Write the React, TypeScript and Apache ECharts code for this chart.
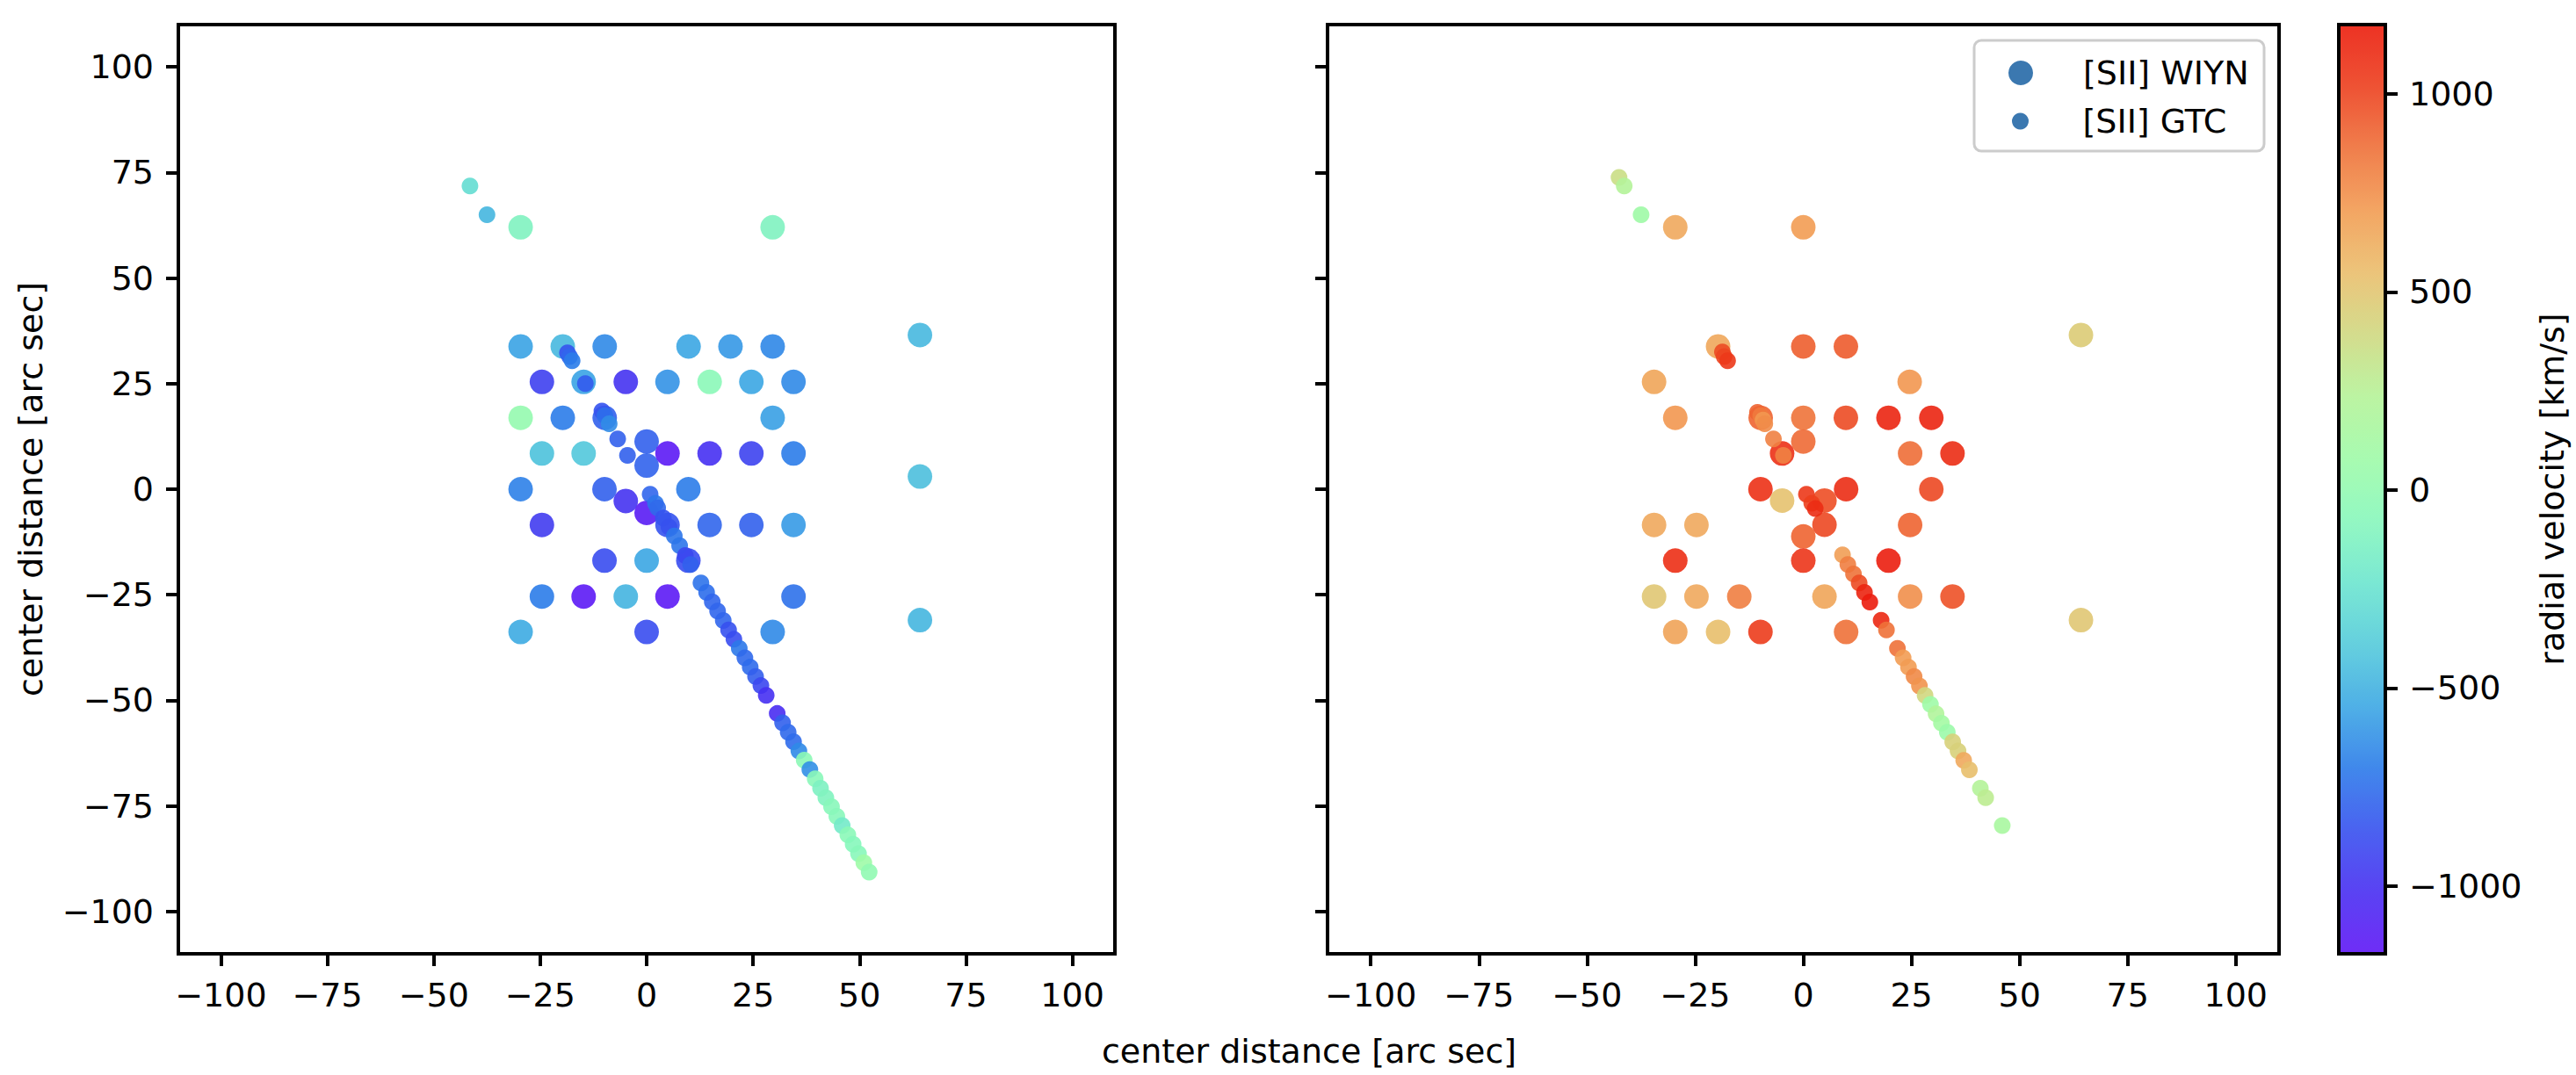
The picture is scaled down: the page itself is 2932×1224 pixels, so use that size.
import { useEffect, useRef } from "react";
import * as echarts from "echarts";

const tickValues = [-100, -75, -50, -25, 0, 25, 50, 75, 100];
const colorbarTicks = [-1000, -500, 0, 500, 1000];
const velocityMin = -1171;
const velocityMax = 1175;

// colour bar as it looks on the page, evenly spaced from velocityMin to velocityMax
const colorbarStops = [
  "#6f2df6", "#5a42f3", "#4a62f0", "#4088eb", "#4fb0e6", "#65d0de", "#7ae8d3", "#93f8c2",
  "#a8fbb0", "#bcf4a2", "#d4dc8d", "#ecc47a", "#f3a563", "#f07e4c", "#ee5234", "#ed3224",
];

// [x, y, velocity]
const leftWiyn = [
  [-29.6, 62, -120], [29.6, 62, -120],
  [-29.6, 33.8, -560], [-19.7, 33.8, -470], [-9.85, 33.8, -650], [9.85, 33.8, -550], [19.7, 33.8, -600], [29.6, 33.8, -660],
  [-24.6, 25.4, -930], [-14.8, 25.4, -560], [-4.9, 25.4, -990], [4.9, 25.4, -620], [14.8, 25.4, -50], [24.6, 25.4, -550], [34.5, 25.4, -650],
  [-29.6, 16.9, 20], [-19.7, 16.9, -700], [-9.85, 16.9, -800], [29.6, 16.9, -570],
  [0, 11.3, -800], [0, 5.6, -790],
  [-24.6, 8.46, -430], [-14.8, 8.46, -400], [4.9, 8.46, -1150], [14.8, 8.46, -1000], [24.6, 8.46, -920], [34.5, 8.46, -700],
  [-29.6, 0, -680], [-9.9, 0, -800], [9.8, 0, -700],
  [-4.9, -2.8, -990], [0, -5.6, -1130],
  [-24.6, -8.46, -950], [4.9, -8.46, -850], [14.8, -8.46, -780], [24.6, -8.46, -800], [34.5, -8.46, -590],
  [-9.9, -16.9, -880], [0, -16.9, -550], [9.8, -16.9, -880],
  [-24.6, -25.4, -700], [-14.8, -25.4, -1150], [-4.9, -25.4, -490], [4.9, -25.4, -1150], [34.5, -25.4, -740],
  [-29.6, -33.8, -530], [0, -33.8, -880], [29.6, -33.8, -650],
  [64.2, 36.5, -470], [64.2, 3, -440], [64.2, -31, -480],
];

const leftGtc = [
  [-41.5, 71.8, -280], [-37.5, 65, -480],
  [-18.6, 32.3, -850], [-18.1, 31.4, -780], [-17.5, 30.4, -700],
  [-14.4, 25, -820],
  [-10.5, 18.5, -850], [-9.8, 17.4, -750], [-8.8, 15.5, -640],
  [-6.8, 11.9, -800], [-4.5, 8, -800],
  [0.82, -1.19, -780], [2.07, -3.35, -720], [2.59, -4.42, -770], [3.92, -6.79, -850], [5.24, -8.94, -860],
  [6.5, -11.09, -720], [7.75, -13.38, -720], [9.08, -15.68, -900], [10.33, -17.83, -800],
  [12.76, -22.2, -730], [14.09, -24.42, -750], [15.42, -26.65, -780], [16.67, -28.87, -780], [18, -31.09, -780],
  [19.25, -33.31, -860], [20.5, -35.53, -880], [21.76, -37.68, -710], [23.08, -39.91, -770], [24.33, -42.13, -760],
  [25.59, -44.35, -810], [26.84, -46.5, -900], [28.09, -48.8, -1000],
  [30.67, -53.1, -1020], [31.93, -55.32, -800], [33.25, -57.54, -770], [34.51, -59.77, -760], [35.76, -61.99, -650],
  [37.01, -64.14, -40], [38.34, -66.36, -630], [39.59, -68.58, -60], [40.85, -70.81, -130], [42.1, -73.03, -110],
  [43.43, -75.18, -70], [44.68, -77.47, -70], [45.93, -79.62, -190], [47.26, -81.85, -50], [48.51, -84.07, -80],
  [49.77, -86.29, -70], [51.02, -88.44, 80], [52.27, -90.67, -10],
];

const rightWiyn = [
  [-29.6, 62, 640], [0, 62, 700],
  [-19.7, 33.8, 650], [0, 33.8, 920], [9.85, 33.8, 930],
  [-34.5, 25.4, 660], [24.6, 25.4, 720],
  [-29.6, 16.9, 720], [-9.85, 16.9, 900], [0, 16.9, 850], [9.85, 16.9, 980], [19.7, 16.9, 1130], [29.6, 16.9, 1130],
  [-4.9, 8.46, 1080], [0, 11.3, 880], [24.7, 8.46, 870], [34.5, 8.46, 1100],
  [-9.9, 0, 1080], [9.9, 0, 1100], [29.6, 0, 990],
  [-4.9, -2.7, 520], [4.9, -2.7, 970], [4.9, -8.4, 990], [0, -11.2, 900],
  [-34.5, -8.46, 640], [-24.7, -8.46, 640], [24.7, -8.46, 900],
  [-29.6, -16.9, 1090], [0, -16.9, 1060], [19.7, -16.9, 1160],
  [-34.5, -25.4, 490], [-24.7, -25.4, 640], [-14.8, -25.4, 810], [4.9, -25.4, 660], [24.7, -25.4, 750], [34.5, -25.4, 960],
  [-29.6, -33.8, 670], [-19.7, -33.8, 540], [-9.9, -33.8, 1030], [9.9, -33.8, 860],
  [64.2, 36.5, 470], [64.2, -31, 490],
];

const rightGtc = [
  [-42.6, 73.8, 360], [-41.4, 71.8, 230], [-37.5, 65, 90],
  [-18.7, 32.5, 980], [-18.3, 31.4, 1000], [-17.5, 30.4, 1050],
  [-10.6, 18.2, 900], [-9.85, 17.4, 830], [-9.3, 16.4, 720], [-8.9, 15.5, 760],
  [-6.9, 11.9, 800], [-4.6, 8, 800],
  [0.72, -1.2, 1050], [1.96, -3.35, 1020], [2.75, -4.56, 1100],
  [9.07, -15.53, 690], [10.3, -17.83, 810], [11.61, -20.05, 850], [12.92, -22.2, 980], [14.15, -24.42, 1130], [15.39, -26.72, 1170],
  [18, -31.02, 1120], [19.23, -33.31, 860],
  [21.77, -37.68, 860], [23.08, -39.91, 700], [24.32, -42.13, 700], [25.62, -44.35, 770], [26.85, -46.57, 730],
  [28.16, -48.8, 400], [29.4, -50.95, 80], [30.7, -53.17, 210], [31.94, -55.39, 120], [33.3, -57.54, 60],
  [34.55, -59.84, 440], [35.78, -61.99, 440], [37.09, -64.21, 640], [38.4, -66.43, 540],
  [40.94, -70.81, 230], [42.17, -73.03, 280], [46, -79.62, 150],
];

const FONT = "DejaVu Sans";
const FONT_SIZE = 38;
const MARKER_ALPHA = 0.9;
const WIYN_NAME = "[SII] WIYN";
const GTC_NAME = "[SII] GTC";

// the markers are drawn translucent, so take the white out of the colours seen on the bar
const markerStops = colorbarStops.map((hex) => {
  const channels = [1, 3, 5].map((i) => parseInt(hex.slice(i, i + 2), 16));
  const solid = channels.map((c) => Math.max(0, Math.round((c - 255 * (1 - MARKER_ALPHA)) / MARKER_ALPHA)));
  return `rgb(${solid.join(",")})`;
});

const minusSign = (value: number) => String(value).replace("-", "\u2212");

const distanceAxis = (gridIndex: number, extra: object) => ({
  type: "value",
  gridIndex,
  min: -110,
  max: 110,
  splitLine: { show: false },
  axisLine: { show: false, onZero: false },
  axisTick: { customValues: tickValues, length: 14, lineStyle: { color: "#000", width: 4 } },
  axisLabel: {
    customValues: tickValues,
    formatter: minusSign,
    margin: 28,
    color: "#000",
    fontFamily: FONT,
    fontSize: FONT_SIZE,
  },
  ...extra,
});

const scatter = (name: string, data: number[][], size: number, axisIndex: number) => ({
  name,
  type: "scatter",
  data,
  symbolSize: size,
  xAxisIndex: axisIndex,
  yAxisIndex: axisIndex,
  itemStyle: { opacity: MARKER_ALPHA },
});

const legendItem = (name: string, left: number, top: number, height: number) => ({
  left,
  top,
  padding: 0,
  orient: "vertical",
  itemWidth: 132,
  itemHeight: height,
  selectedMode: false,
  data: [{ name, icon: "circle", itemStyle: { color: "#3b78b0", opacity: 1 } }],
  textStyle: { color: "#000", fontFamily: FONT, fontSize: FONT_SIZE },
});

export default function App() {
  const chartRef = useRef<HTMLDivElement>(null);

  useEffect(() => {
    if (!chartRef.current) return;

    const chart = echarts.init(chartRef.current, null, { renderer: "svg" });

    chart.setOption({
      animation: false,
      backgroundColor: "#fff",
      title: {
        text: "center distance [arc sec]",
        left: 1485,
        top: 1173,
        textAlign: "center",
        textStyle: { color: "#000", fontFamily: FONT, fontSize: FONT_SIZE, fontWeight: "normal" },
      },
      grid: [
        { left: 203, top: 28, width: 1066, height: 1058, show: true, borderColor: "#000", borderWidth: 4, backgroundColor: "transparent" },
        { left: 1511, top: 28, width: 1083, height: 1058, show: true, borderColor: "#000", borderWidth: 4, backgroundColor: "transparent" },
        { left: 2662, top: 28, width: 53, height: 1058, show: true, borderColor: "#000", borderWidth: 4, backgroundColor: "transparent", z: 10 },
      ],
      xAxis: [
        distanceAxis(0, {}),
        distanceAxis(1, {}),
        { type: "value", gridIndex: 2, min: 0, max: 1, show: false },
      ],
      yAxis: [
        distanceAxis(0, {
          name: "center distance [arc sec]",
          nameLocation: "middle",
          nameRotate: 90,
          nameGap: 149,
          nameTextStyle: { color: "#000", fontFamily: FONT, fontSize: FONT_SIZE },
        }),
        {
          ...distanceAxis(1, {}),
          axisLabel: { show: false },
        },
        {
          type: "value",
          gridIndex: 2,
          position: "right",
          min: velocityMin,
          max: velocityMax,
          splitLine: { show: false },
          axisLine: { show: false, onZero: false },
          axisTick: { customValues: colorbarTicks, length: 14, lineStyle: { color: "#000", width: 4 } },
          axisLabel: {
            customValues: colorbarTicks,
            formatter: minusSign,
            margin: 27,
            color: "#000",
            fontFamily: FONT,
            fontSize: FONT_SIZE,
          },
          name: "radial velocity [km/s]",
          nameLocation: "middle",
          nameRotate: 90,
          nameGap: 171,
          nameTextStyle: { color: "#000", fontFamily: FONT, fontSize: FONT_SIZE },
        },
      ],
      visualMap: [
        {
          type: "continuous",
          show: false,
          dimension: 2,
          min: velocityMin,
          max: velocityMax,
          seriesIndex: [0, 1, 2, 3],
          inRange: { color: markerStops },
        },
        {
          // this one is only the colour strip of the bar
          type: "continuous",
          show: true,
          dimension: 2,
          min: velocityMin,
          max: velocityMax,
          seriesIndex: [],
          left: 2662,
          top: 28,
          padding: 0,
          itemWidth: 53,
          itemHeight: 1058,
          calculable: false,
          hoverLink: false,
          inRange: { color: colorbarStops },
          textStyle: { fontSize: 0 },
        },
      ],
      legend: [legendItem(WIYN_NAME, 2286, 64, 28), legendItem(GTC_NAME, 2290, 119, 19)],
      graphic: [
        {
          type: "rect",
          z: 0,
          shape: { x: 2247, y: 46, width: 330, height: 126, r: 8 },
          style: { fill: "#fff", stroke: "#ccc", lineWidth: 3 },
        },
      ],
      series: [
        scatter(WIYN_NAME, leftWiyn, 28, 0),
        scatter(GTC_NAME, leftGtc, 19, 0),
        scatter(WIYN_NAME, rightWiyn, 28, 1),
        scatter(GTC_NAME, rightGtc, 19, 1),
      ],
    });

    return () => {
      chart.dispose();
    };
  }, []);

  return <div ref={chartRef} style={{ position: "fixed", left: 0, top: 0, width: 2932, height: 1224 }} />;
}
